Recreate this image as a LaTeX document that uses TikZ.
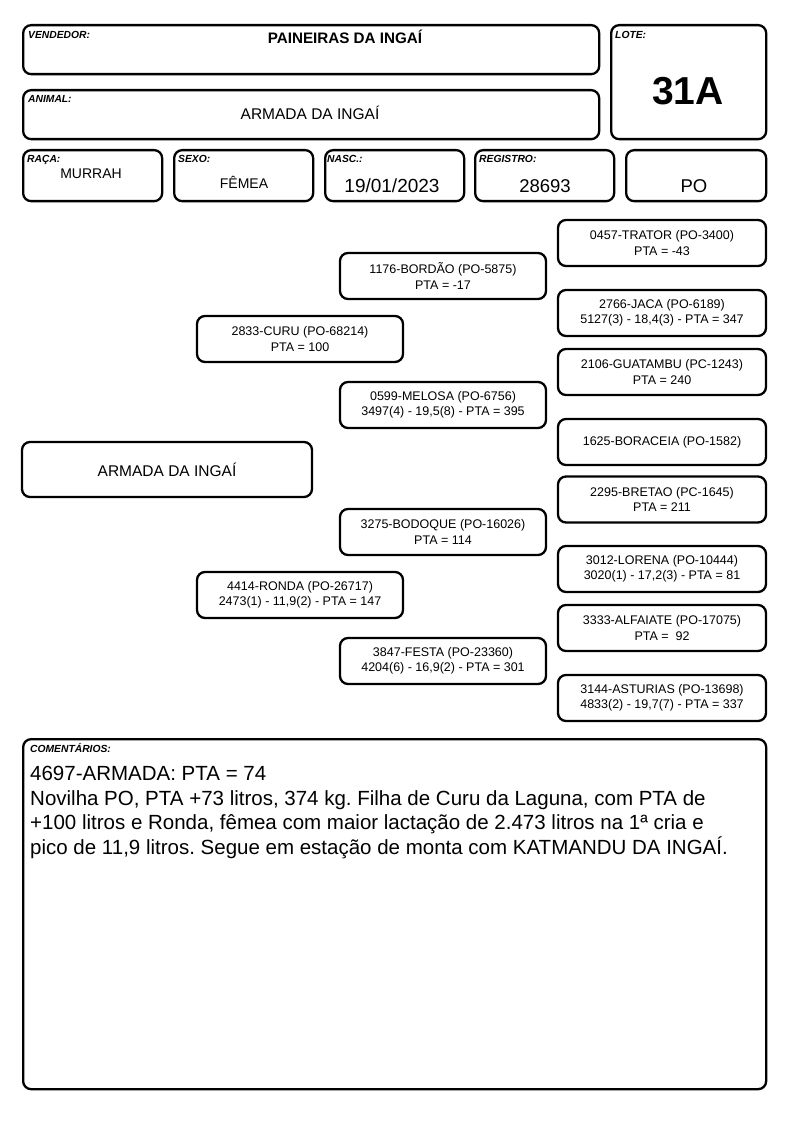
\documentclass[tikz,border=0pt]{standalone}
\usepackage{fontspec}
\setmainfont{Liberation Sans}
\frenchspacing
\begin{document}
\begin{tikzpicture}[x=1pt,y=-1pt,
  box/.style={draw, line width=2.3pt, rounded corners=8pt, anchor=north west, inner sep=0pt},
  lab/.style={anchor=base west, inner sep=0pt, font=\fontsize{10.3}{12}\selectfont\bfseries\itshape},
  val/.style={anchor=base, inner sep=0pt},
  ped/.style={draw, line width=2.3pt, rounded corners=8pt, minimum width=208pt, minimum height=46pt, align=center, inner sep=0pt, font=\fontsize{12.5}{15.5}\selectfont},
  pedm/.style={ped, minimum width=206pt}]
\fill[white] (0,0) rectangle (794,1123);
\useasboundingbox (0,0) rectangle (794,1123);
% header boxes
\node[box, minimum width=576pt, minimum height=49pt] (vend) at (22,24) {};
\node[box, minimum width=576pt, minimum height=49pt] (anim) at (22,89) {};
\node[box, minimum width=155pt, minimum height=114pt] (lote) at (610,24) {};
\node[box, minimum width=139pt, minimum height=51pt] (raca) at (22,149) {};
\node[box, minimum width=139pt, minimum height=51pt] (sexo) at (173,149) {};
\node[box, minimum width=139pt, minimum height=51pt] (nasc) at (324,149) {};
\node[box, minimum width=139pt, minimum height=51pt] (reg) at (474,149) {};
\node[box, minimum width=140pt, minimum height=51pt] (po) at (625,149) {};
\node[box, minimum width=743pt, minimum height=350pt] (coment) at (22,738) {};
% header labels
\node[lab] (lvend) at (28,38.5) {VENDEDOR:};
\node[val, font=\fontsize{15.2}{17}\selectfont\bfseries] (tvend) at (345,44) {PAINEIRAS DA INGAÍ};
\node[lab] (lanim) at (28,103) {ANIMAL:};
\node[val, font=\fontsize{15.5}{18}\selectfont] (tanim) at (310,120) {ARMADA DA INGAÍ};
\node[lab] (llote) at (615,38.5) {LOTE:};
\node[val, font=\fontsize{39}{44}\selectfont\bfseries] (tlote) at (688,105) {31A};
\node[lab] (lraca) at (27,163) {RAÇA:};
\node[val, font=\fontsize{14}{17}\selectfont] (traca) at (91,179) {MURRAH};
\node[lab] (lsexo) at (178,163) {SEXO:};
\node[val, font=\fontsize{14}{17}\selectfont] (tsexo) at (244,189) {FÊMEA};
\node[lab] (lnasc) at (327,163) {NASC.:};
\node[val, font=\fontsize{19}{21}\selectfont] (tnasc) at (392,193) {19/01/2023};
\node[lab] (lreg) at (479,163) {REGISTRO:};
\node[val, font=\fontsize{18.5}{21}\selectfont] (treg) at (545,193) {28693};
\node[val, font=\fontsize{18.5}{21}\selectfont] (tpo) at (694,193) {PO};
% pedigree
\node[ped] (trator) at (662,243) {0457-TRATOR (PO-3400)\\PTA = -43};
\node[pedm] (bordao) at (443,276) {1176-BORDÃO (PO-5875)\\PTA = -17};
\node[ped] (jaca) at (662,313) {2766-JACA (PO-6189)\\5127(3) - 18,4(3) - PTA = 347};
\node[pedm] (curu) at (300,339) {2833-CURU (PO-68214)\\PTA = 100};
\node[ped] (guat) at (662,372) {2106-GUATAMBU (PC-1243)\\PTA = 240};
\node[pedm] (melosa) at (443,405) {0599-MELOSA (PO-6756)\\3497(4) - 19,5(8) - PTA = 395};
\node[ped] (borac) at (662,442) {1625-BORACEIA (PO-1582)};
\node[draw, line width=2.3pt, rounded corners=8pt, minimum width=290pt, minimum height=55pt, inner sep=0pt, font=\fontsize{15.5}{18}\selectfont] (armada) at (167,469.5) {ARMADA DA INGAÍ};
\node[ped] (bretao) at (662,499.5) {2295-BRETAO (PC-1645)\\PTA = 211};
\node[pedm] (bodoque) at (443,532) {3275-BODOQUE (PO-16026)\\PTA = 114};
\node[ped] (lorena) at (662,569) {3012-LORENA (PO-10444)\\3020(1) - 17,2(3) - PTA = 81};
\node[pedm] (ronda) at (300,595) {4414-RONDA (PO-26717)\\2473(1) - 11,9(2) - PTA = 147};
\node[ped] (alfaiate) at (662,628) {3333-ALFAIATE (PO-17075)\\PTA =~~92};
\node[pedm] (festa) at (443,661) {3847-FESTA (PO-23360)\\4204(6) - 16,9(2) - PTA = 301};
\node[ped] (asturias) at (662,698) {3144-ASTURIAS (PO-13698)\\4833(2) - 19,7(7) - PTA = 337};
% comments
\node[lab] (lcom) at (30,752) {COMENTÁRIOS:};
\node[anchor=base west, inner sep=0pt, align=left, font=\fontsize{20.5}{24.5}\selectfont] (tcom) at (30,854) {4697-ARMADA: PTA = 74\\
Novilha PO, PTA +73 litros, 374 kg. Filha de Curu da Laguna, com PTA de\\
+100 litros e Ronda, fêmea com maior lactação de 2.473 litros na 1ª cria e\\
pico de 11,9 litros. Segue em estação de monta com KATMANDU DA INGAÍ.};
\end{tikzpicture}
\end{document}
